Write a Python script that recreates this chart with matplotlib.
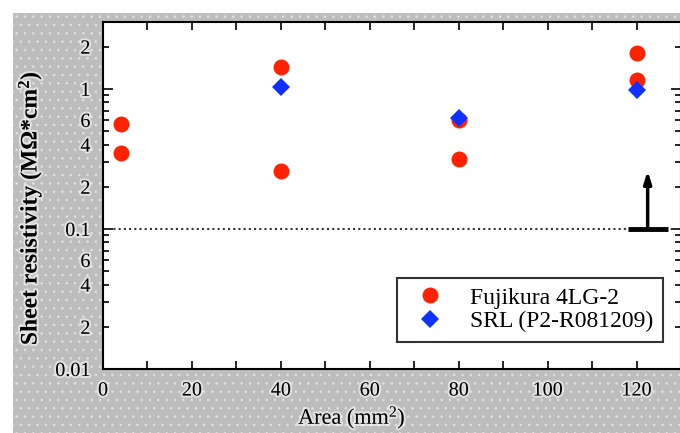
import numpy as np
import matplotlib
matplotlib.use("Agg")
import matplotlib.pyplot as plt
import matplotlib.ticker as mticker
import matplotlib.patheffects as pe
from matplotlib.patches import Rectangle

# Data
fuji_area = [4, 4, 40, 40, 80, 80, 120, 120]
fuji_rs = [0.56, 0.35, 1.43, 0.26, 0.60, 0.315, 1.80, 1.15]
srl_area = [40, 80, 120]
srl_rs = [1.03, 0.62, 0.98]

limit_level = 0.1          # dotted reference level
arrow_x = 122.5
arrow_top = 0.26
bar_span = [118, 127]

RED = '#ff2200'
BLUE = '#1030ff'

plt.rcParams['font.family'] = ['Liberation Serif', 'DejaVu Serif']
plt.rcParams['mathtext.fontset'] = 'custom'
plt.rcParams['mathtext.rm'] = 'Liberation Serif'
plt.rcParams['mathtext.bf'] = 'Liberation Serif:bold'
plt.rcParams['mathtext.default'] = 'regular'
plt.rcParams['hatch.linewidth'] = 0.6

W, H = 680, 433
fig = plt.figure(figsize=(W / 100, H / 100), dpi=100)

# grey textured backdrop with a thin white margin top/left
bg = Rectangle((13 / W, 0), 1 - 13 / W, 1 - 13 / H, transform=fig.transFigure,
               facecolor='#bdbdbd', edgecolor='#e2e2e2', hatch='..', linewidth=0, zorder=-10)
fig.patches.append(bg)

ax = fig.add_axes([103 / W, (H - 369) / H, (681 - 103) / W, (369 - 22) / H])
ax.set_facecolor('white')

ax.plot(fuji_area, fuji_rs, 'o', color=RED, markersize=11.5, markeredgewidth=0,
        label='Fujikura 4LG-2', zorder=3)
ax.plot(srl_area, srl_rs, 'D', color=BLUE, markersize=9, markeredgewidth=0,
        label='SRL (P2-R081209)', zorder=4)

ax.axhline(limit_level, color='#333333', lw=1.5, ls=(0, (1, 1.5)), zorder=2)
ax.plot(bar_span, [limit_level, limit_level], color='black', lw=3.5,
        solid_capstyle='butt', zorder=5)
ax.annotate('', xy=(arrow_x, arrow_top), xytext=(arrow_x, limit_level),
            arrowprops=dict(arrowstyle='-|>,head_length=0.7,head_width=0.22',
                            color='black', lw=2.5, shrinkA=0, shrinkB=0), zorder=5)

ax.set_yscale('log')
ax.set_ylim(0.01, 3.0)
ax.set_xlim(0, 130)

ax.xaxis.set_major_locator(mticker.MultipleLocator(10))
ax.xaxis.set_major_formatter(mticker.FuncFormatter(
    lambda v, p: f'{int(round(v))}' if int(round(v)) % 20 == 0 else ''))

ax.yaxis.set_major_locator(mticker.FixedLocator([0.01, 0.1, 1]))
ax.yaxis.set_major_formatter(mticker.FixedFormatter(['0.01', '0.1', '1']))
ax.yaxis.set_minor_locator(mticker.LogLocator(base=10, subs=np.arange(2, 10)))


def minor_fmt(v, pos):
    m = int(round(v / 10 ** np.floor(np.log10(v) + 1e-9)))
    return str(m) if m in (2, 4, 6) else ''


ax.yaxis.set_minor_formatter(mticker.FuncFormatter(minor_fmt))

ax.tick_params(which='both', direction='in', top=True, right=True, width=1.2,
               labelsize=14.5, pad=9, colors='black')
ax.tick_params(axis='x', which='major', length=5.5)
ax.tick_params(axis='y', which='major', length=7)
ax.tick_params(axis='y', which='minor', length=4)

halo = [pe.withStroke(linewidth=3, foreground='white', alpha=0.55)]
for lab in ax.get_xticklabels() + ax.get_yticklabels() + ax.get_yticklabels(minor=True):
    lab.set_path_effects(halo)

for s in ax.spines.values():
    s.set_linewidth(1.5)

ax.set_xlabel('Area (mm$^2$)', fontsize=16)
ax.xaxis.set_label_coords((352 - 103) / 578, (369 - 418) / 347)
ax.xaxis.label.set_verticalalignment('center')
ax.set_ylabel('Sheet resistivity (M$\\Omega$*cm$^2$)', fontsize=17, fontweight='bold')
ax.yaxis.set_label_coords((30 - 103) / 578, (369 - 208) / 347)
ax.yaxis.label.set_verticalalignment('center')
ax.xaxis.label.set_path_effects(halo)
ax.yaxis.label.set_path_effects(halo)

leg = ax.legend(loc='lower right', bbox_to_anchor=(0.968, 0.078), fontsize=17,
                frameon=True, fancybox=False, borderaxespad=0, handletextpad=0.7,
                borderpad=0.4, labelspacing=0.1, handlelength=2.0)
leg.get_frame().set_edgecolor('black')
leg.get_frame().set_linewidth(1.5)

fig.savefig('out.png', dpi=100)
